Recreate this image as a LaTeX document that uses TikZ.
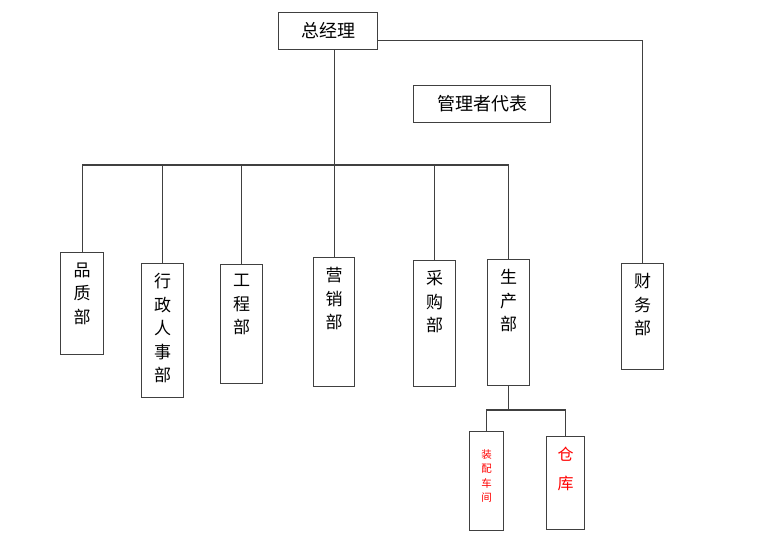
\documentclass[tikz,border=0pt]{standalone}
\usepackage{fontspec}
\newfontfamily\cjk{Noto Sans CJK SC}
\usetikzlibrary{positioning}

\begin{document}
\begin{tikzpicture}[
    x=1pt, y=-1pt, line width=1.1pt, draw=black!75,
    every node/.style={draw=black!75, anchor=north west, inner sep=0pt, font=\cjk},
    dtxt/.style={draw=none, anchor=north, yshift=-10pt, align=center,
        font=\cjk\fontsize{17}{23.5}\selectfont},
    ztxt/.style={dtxt, text=red, yshift=-8pt, font=\cjk\fontsize{10.5}{14.5}\selectfont},
    ctxt/.style={dtxt, text=red, font=\cjk\fontsize{16}{29}\selectfont}
]
\useasboundingbox (0,0) rectangle (776,552);

% top
\node[minimum width=99, minimum height=37, font=\cjk\fontsize{18}{20}\selectfont] (zjl) at (278,12) {总经理};
\node[minimum width=137, minimum height=37, font=\cjk\fontsize{18}{20}\selectfont] (gldb) at (413,85) {管理者代表};

% departments
\node[minimum width=43, minimum height=102, label={[dtxt]north:品\\质\\部}] (pz) at (60,252) {};
\node[minimum width=42, minimum height=134, label={[dtxt]north:行\\政\\人\\事\\部}] (xz) at (141,263) {};
\node[minimum width=42, minimum height=119, label={[dtxt]north:工\\程\\部}] (gc) at (220,264) {};
\node[minimum width=41, minimum height=129, label={[dtxt]north:营\\销\\部}] (yx) at (313,257) {};
\node[minimum width=42, minimum height=126, label={[dtxt]north:采\\购\\部}] (cg) at (413,260) {};
\node[minimum width=42, minimum height=126, label={[dtxt]north:生\\产\\部}] (sc) at (487,259) {};
\node[minimum width=42, minimum height=106, label={[dtxt]north:财\\务\\部}] (cw) at (621,263) {};

% under production
\node[minimum width=34, minimum height=99, label={[ztxt]north:装\\配\\车\\间}] (zp) at (469,431) {};
\node[minimum width=38, minimum height=93, label={[ctxt]north:仓\\库}] (ck) at (546,436) {};

% connectors
\coordinate (bus) at (0,165);
\coordinate (sub) at (0,410);
\draw (zjl.south -| yx.north) -- (yx.north);
\draw (pz.north) -- (pz.north |- bus) -- (sc.north |- bus) -- (sc.north);
\foreach \d in {xz,gc,cg}
    \draw (\d.north) -- (\d.north |- bus);
\draw ([yshift=-9pt]zjl.east) -| (cw.north);
\draw (sc.south) -- (sc.south |- sub);
\draw (zp.north) -- (zp.north |- sub) -- (ck.north |- sub) -- (ck.north);

\end{tikzpicture}
\end{document}
